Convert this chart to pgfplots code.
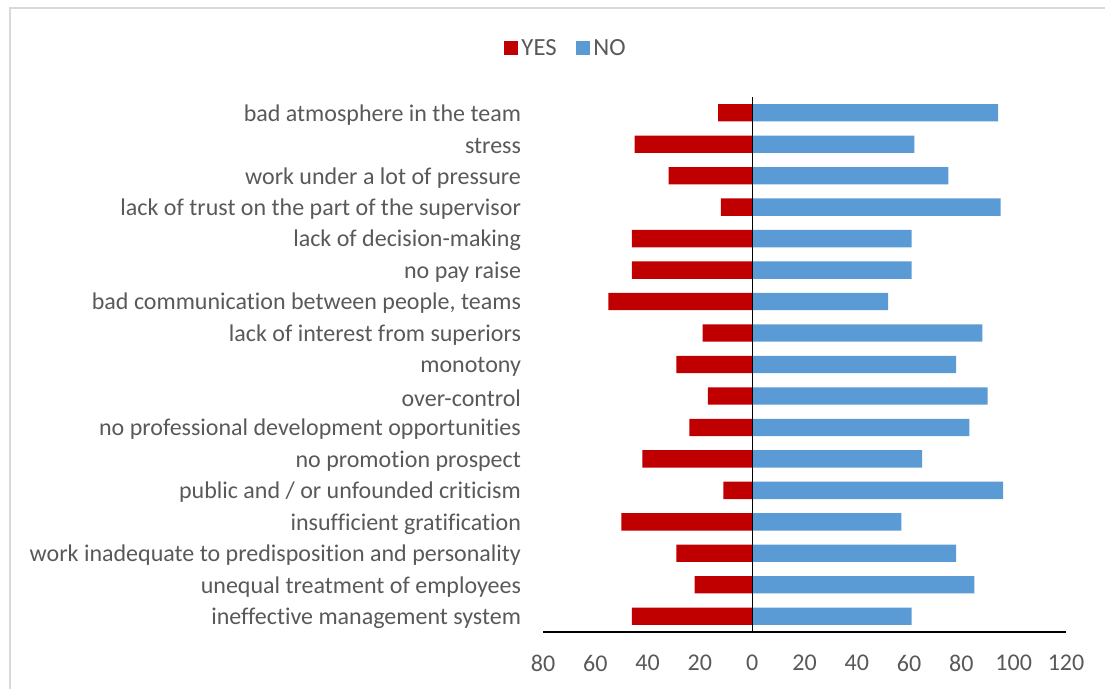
\documentclass[border=0pt]{standalone}
\usepackage{pgfplots}
\pgfplotsset{compat=1.18}
\usepackage{fontspec}
\setmainfont{Carlito}[Ligatures=NoCommon]
\definecolor{yescol}{HTML}{C00000}
\definecolor{nocol}{HTML}{5B9BD5}
\definecolor{txtgray}{HTML}{595959}
\definecolor{framegray}{HTML}{D9D9D9}
\begin{document}
\begin{tikzpicture}
\path[use as bounding box] (0,0) rectangle (828.75pt,516.75pt);
\draw[framegray, line width=1.2pt] (7.5pt,0pt) -- (7.5pt,510.75pt) -- (828.75pt,510.75pt);
\begin{axis}[
  at={(407.25pt,42.75pt)}, anchor=south west,
  scale only axis, width=392.25pt, height=401.25pt,
  xmin=-80, xmax=120, ymin=-0.5, ymax=16.5,
  xtick={-80,-60,-40,-20,0,20,40,60,80,100,120},
  xticklabels={80,60,40,20,0,20,40,60,80,100,120},
  ytick={0,...,16},
  yticklabels={ineffective management system, unequal treatment of employees, work inadequate to predisposition and personality, insufficient gratification, public and / or unfounded criticism, no promotion prospect, no professional development opportunities, over-control, monotony, lack of interest from superiors, {bad communication between people, teams}, no pay raise, lack of decision-making, lack of trust on the part of the supervisor, work under a lot of pressure, stress, bad atmosphere in the team},
  axis x line*=bottom, axis y line*=left,
  x axis line style={-, black, line width=0.9pt},
  y axis line style={draw=none},
  major tick length=0pt,
  tick label style={font=\fontsize{18}{20}\selectfont, text=txtgray},
  xticklabel style={yshift=-14pt},
  yticklabel style={anchor=east, xshift=-13pt, yshift=-1.5pt},
  /pgf/number format/assume math mode=true,
  xbar, bar width=13pt, bar shift=0pt,
  legend columns=2,
  legend style={at={(0.045,1.091)}, anchor=center, draw=none, fill=none,
    font=\fontsize{18.5}{20}\selectfont, text=txtgray,
    /tikz/every even column/.append style={column sep=12pt},
    nodes={inner sep=2.5pt}},
]
\addplot[fill=yescol, draw=none, legend image code/.code={\fill[yescol] (0pt,-5.25pt) rectangle (10.5pt,5.25pt);}] coordinates {
(-46,0) (-22,1) (-29,2) (-50,3) (-11,4) (-42,5) (-24,6) (-17,7) (-29,8) (-19,9) (-55,10) (-46,11) (-46,12) (-12,13) (-32,14) (-45,15) (-13,16)};
\addlegendentry{YES}
\addplot[fill=nocol, draw=none, legend image code/.code={\fill[nocol] (0pt,-5.25pt) rectangle (10.5pt,5.25pt);}] coordinates {
(61,0) (85,1) (78,2) (57,3) (96,4) (65,5) (83,6) (90,7) (78,8) (88,9) (52,10) (61,11) (61,12) (95,13) (75,14) (62,15) (94,16)};
\addlegendentry{NO}
\draw[black, line width=1pt] (axis cs:0,-0.5) -- (axis cs:0,16.5);
\end{axis}
\end{tikzpicture}
\end{document}
